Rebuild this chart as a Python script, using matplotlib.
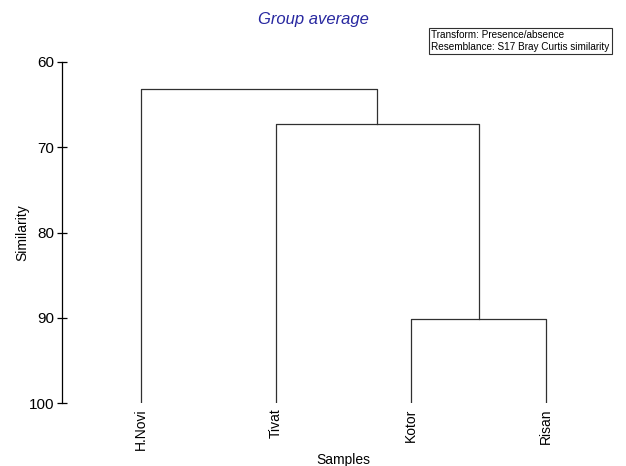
import matplotlib
matplotlib.use('Agg')
import matplotlib.pyplot as plt

plt.rcParams['font.family'] = ['Liberation Sans', 'DejaVu Sans']

# Data
samples = ['H.Novi', 'Tivat', 'Kotor', 'Risan']
# merges: (left cluster, right cluster, similarity); clusters 0-3 are samples, 4+ are merges
merges = [(2, 3, 90.1), (1, 4, 67.3), (0, 5, 63.2)]

fig = plt.figure(figsize=(6.26, 4.66), dpi=100)
ax = fig.add_axes([0.099, 0.135, 0.9, 0.732])

# node positions
xpos = {i: i + 1 for i in range(len(samples))}
ypos = {i: 100.0 for i in range(len(samples))}
for k, (a, b, h) in enumerate(merges):
    node = len(samples) + k
    ax.plot([xpos[a], xpos[a], xpos[b], xpos[b]], [ypos[a], h, h, ypos[b]],
            color='#303030', lw=0.9)
    xpos[node] = (xpos[a] + xpos[b]) / 2
    ypos[node] = h

ax.set_xlim(0.415, 4.585)
ax.set_ylim(100, 60)
ax.set_yticks([60, 70, 80, 90, 100])
ax.tick_params(axis='y', direction='inout', length=7, labelsize=11, width=0.9, pad=2)
ax.set_xticks(range(1, len(samples) + 1))
ax.set_xticklabels(samples, rotation=90, fontsize=10)
ax.tick_params(axis='x', length=0, pad=4)
for s in ['top', 'right', 'bottom']:
    ax.spines[s].set_visible(False)
ax.spines['left'].set_linewidth(0.9)

fig.text(0.035, 0.5, 'Similarity', fontsize=10, rotation=90, ha='center', va='center')
fig.text(0.548, 0.013, 'Samples', fontsize=10, ha='center', va='center')

fig.suptitle('Group average', x=0.5, y=0.975, fontsize=12, style='italic', color='#2828a0')
fig.text(0.689, 0.912, 'Transform: Presence/absence\nResemblance: S17 Bray Curtis similarity',
         fontsize=7.2, va='center', ha='left', linespacing=1.2,
         bbox=dict(boxstyle='square,pad=0.25', fc='white', ec='#303030', lw=0.8))

fig.savefig('out.png', dpi=100)
